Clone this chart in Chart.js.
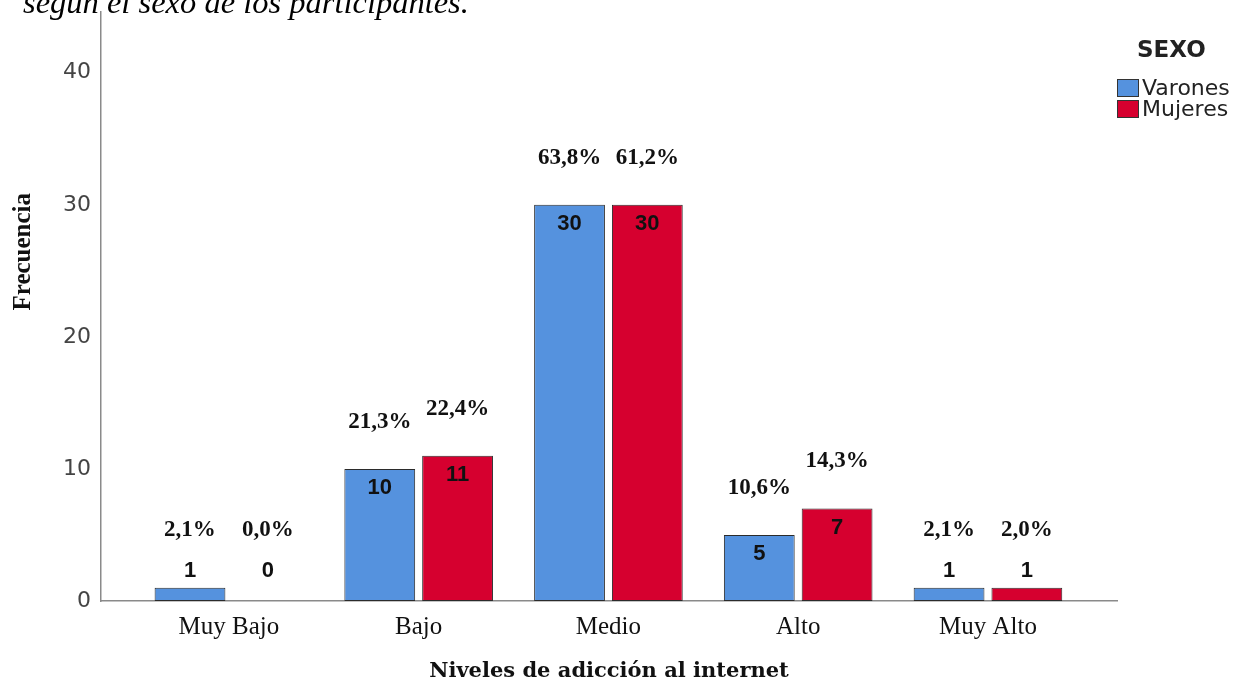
<!doctype html>
<html lang="es">
<head>
    <title>Niveles de adicción al internet</title>
    <meta charset="utf-8">
    <script src="https://cdn.jsdelivr.net/npm/chart.js@4.4.0/dist/chart.umd.min.js"></script>
    <style>
        body { margin: 0; background: #fff; }
        #wrap { position: relative; width: 1233px; height: 681px; overflow: hidden; }
        #caption { position: absolute; left: 23px; top: -16px; font: italic 32.5px "Liberation Serif", serif; color: #000; white-space: nowrap; }
        #legend { position: absolute; left: 1117px; top: 36px; font-family: "DejaVu Sans", sans-serif; color: #222; }
        #legend .title { font-weight: bold; font-size: 23px; line-height: 26px; margin-left: 20px; margin-bottom: 15px; }
        #legend .item { display: flex; align-items: center; font-size: 22px; height: 21px; }
        #legend .box { width: 22px; height: 18px; border: 1px solid #333; margin-right: 3px; box-sizing: border-box; }
    </style>
</head>
<body>
<div id="wrap">
    <canvas id="chart" width="1233" height="681"></canvas>
    <div id="caption">según el sexo de los participantes.</div>
    <div id="legend"></div>
</div>
<script>
    const categories = ['Muy Bajo', 'Bajo', 'Medio', 'Alto', 'Muy Alto'];
    const seriesNames = ['Varones', 'Mujeres'];
    const varones = [1, 10, 30, 5, 1];
    const mujeres = [0, 11, 30, 7, 1];
    const varonesPct = [2.1, 21.3, 63.8, 10.6, 2.1];
    const mujeresPct = [0.0, 22.4, 61.2, 14.3, 2.0];
    const yTicks = [0, 10, 20, 30, 40];
    const colors = ['#5592DE', '#D6002F'];

    // html legend
    let legendHtml = '<div class="title">SEXO</div>';
    seriesNames.forEach(function (name, i) {
        legendHtml += '<div class="item"><span class="box" style="background:' + colors[i] + '"></span>' + name + '</div>';
    });
    document.getElementById('legend').innerHTML = legendHtml;

    function fmtPct(v) {
        return v.toFixed(1).replace('.', ',') + '%';
    }

    const barLabels = {
        id: 'barLabels',
        afterDatasetsDraw(chart) {
            const ctx = chart.ctx;
            const pcts = [varonesPct, mujeresPct];
            // small bars (0 or 1) get their labels at the same height
            const lowTop = chart.scales.y.getPixelForValue(1);
            ctx.save();
            ctx.textAlign = 'center';
            ctx.textBaseline = 'middle';
            ctx.fillStyle = '#111';
            chart.data.datasets.forEach(function (ds, d) {
                chart.getDatasetMeta(d).data.forEach(function (bar, i) {
                    const v = ds.data[i].y;
                    const inside = v >= 5;
                    const top = Math.min(bar.y, lowTop);
                    const countY = inside ? top + 19 : top - 17;
                    const pctY = inside ? top - 47 : top - 58;
                    ctx.font = 'bold 22px "Liberation Sans", Arial, sans-serif';
                    ctx.fillText(String(v), bar.x, countY);
                    ctx.font = 'bold 23px "Liberation Serif", serif';
                    ctx.fillText(fmtPct(pcts[d][i]), bar.x, pctY);
                });
            });
            // y axis title, SPSS puts it a bit above the middle
            const area = chart.chartArea;
            ctx.save();
            ctx.translate(24, area.top + (area.bottom - area.top) * 0.407);
            ctx.rotate(-Math.PI / 2);
            ctx.font = 'bold 25px "Liberation Serif", serif';
            ctx.fillText('Frecuencia', 0, 0);
            ctx.restore();
            ctx.restore();
        }
    };

    function toPoints(arr) {
        return arr.map(function (v, i) { return {x: i, y: v}; });
    }

    const ctx = document.getElementById('chart').getContext('2d');
    const chart = new Chart(ctx, {
        type: 'bar',
        data: {
            datasets: [
                {label: seriesNames[0], data: toPoints(varones), backgroundColor: colors[0]},
                {label: seriesNames[1], data: toPoints(mujeres), backgroundColor: colors[1]}
            ]
        },
        options: {
            responsive: false,
            animation: false,
            devicePixelRatio: 1,
            layout: {padding: {left: 0, top: 12, right: 116, bottom: 0}},
            datasets: {
                bar: {
                    categoryPercentage: 0.82,
                    barPercentage: 0.91,
                    borderColor: '#2b2b2b',
                    borderWidth: function (c) { return c.raw && c.raw.y === 0 ? 0 : 1; },
                    borderSkipped: false
                }
            },
            plugins: {legend: {display: false}, tooltip: {enabled: false}},
            scales: {
                x: {
                    type: 'linear',
                    offset: false,
                    min: -0.674,
                    max: 4.68,
                    grid: {display: false, drawTicks: false},
                    border: {display: true, color: '#8a8a8a', width: 1.5},
                    afterBuildTicks: function (axis) {
                        axis.ticks = categories.map(function (_, i) { return {value: i}; });
                    },
                    afterFit: function (scale) { scale.height = 80; },
                    ticks: {
                        padding: 11,
                        color: '#111',
                        font: {family: '"Liberation Serif", serif', size: 25},
                        callback: function (v) { return categories[v]; }
                    },
                    title: {
                        display: true,
                        text: 'Niveles de adicción al internet',
                        color: '#111',
                        font: {family: '"DejaVu Serif", serif', size: 21, weight: 'bold'},
                        padding: {top: 0, bottom: -3}
                    }
                },
                y: {
                    min: 0,
                    max: 44.6,
                    grid: {display: false, drawTicks: false},
                    border: {display: true, color: '#8a8a8a', width: 1.5},
                    afterBuildTicks: function (axis) {
                        axis.ticks = yTicks.map(function (v) { return {value: v}; });
                    },
                    afterFit: function (scale) {
                        scale.width = 101;
                        scale.paddingTop = 0;
                        scale.paddingBottom = 0;
                    },
                    ticks: {
                        padding: 10,
                        color: '#444',
                        font: {family: '"DejaVu Sans", sans-serif', size: 22}
                    }
                }
            }
        },
        plugins: [barLabels]
    });
</script>
</body>
</html>
